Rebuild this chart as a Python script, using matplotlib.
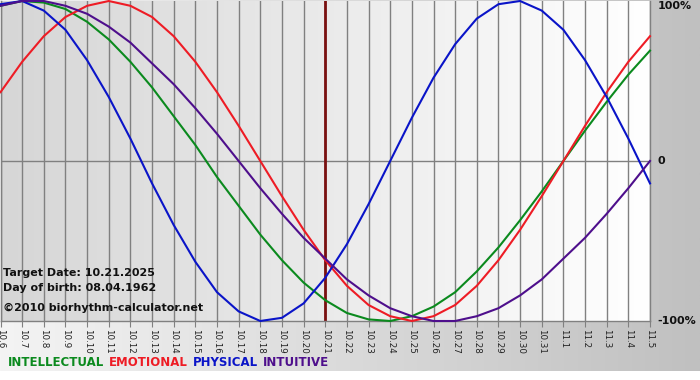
import numpy as np
import matplotlib
matplotlib.use("Agg")
import matplotlib.pyplot as plt
from matplotlib.colors import LinearSegmentedColormap

# ---- data ----
dates = ["10.6", "10.7", "10.8", "10.9", "10.10", "10.11", "10.12", "10.13", "10.14",
         "10.15", "10.16", "10.17", "10.18", "10.19", "10.20", "10.21", "10.22", "10.23",
         "10.24", "10.25", "10.26", "10.27", "10.28", "10.29", "10.30", "10.31", "11.1",
         "11.2", "11.3", "11.4", "11.5"]
physical = [0.98, 1.00, 0.94, 0.82, 0.63, 0.40, 0.14, -0.14, -0.40, -0.63, -0.82, -0.94,
            -1.00, -0.98, -0.89, -0.73, -0.52, -0.27, 0.00, 0.27, 0.52, 0.73, 0.89, 0.98,
            1.00, 0.94, 0.82, 0.63, 0.40, 0.14, -0.14]
emotional = [0.43, 0.62, 0.78, 0.90, 0.97, 1.00, 0.97, 0.90, 0.78, 0.62, 0.43, 0.22,
             0.00, -0.22, -0.43, -0.62, -0.78, -0.90, -0.97, -1.00, -0.97, -0.90, -0.78,
             -0.62, -0.43, -0.22, 0.00, 0.22, 0.43, 0.62, 0.78]
intellectual = [0.97, 1.00, 0.99, 0.95, 0.87, 0.76, 0.62, 0.46, 0.28, 0.10, -0.10, -0.28,
                -0.46, -0.62, -0.76, -0.87, -0.95, -0.99, -1.00, -0.97, -0.91, -0.82, -0.69,
                -0.54, -0.37, -0.19, 0.00, 0.19, 0.37, 0.54, 0.69]
intuitive = [0.97, 1.00, 1.00, 0.97, 0.92, 0.84, 0.74, 0.61, 0.48, 0.33, 0.17, 0.00,
             -0.17, -0.33, -0.48, -0.61, -0.74, -0.84, -0.92, -0.97, -1.00, -1.00, -0.97,
             -0.92, -0.84, -0.74, -0.61, -0.48, -0.33, -0.17, 0.00]
target_date = "10.21"
y_labels = ["100%", "0", "-100%"]
y_values = [1.0, 0.0, -1.0]
info_lines = ["Target Date: 10.21.2025", "Day of birth: 08.04.1962", "\u00a92010 biorhythm-calculator.net"]
series = [("INTELLECTUAL", intellectual, "#0b8a1e"),
          ("EMOTIONAL", emotional, "#ee1c25"),
          ("PHYSICAL", physical, "#0a14c8"),
          ("INTUITIVE", intuitive, "#4e0f8c")]

W, H = 700, 380
fig = plt.figure(figsize=(W / 100, H / 100), dpi=100)

# figure background gradient
bg = fig.add_axes([0, 0, 1, 1], zorder=0)
bg.set_axis_off()
grad = np.linspace(0, 1, 256).reshape(1, -1)
cmap_fig = LinearSegmentedColormap.from_list("f", ["#f4f4f4", "#c0c0c0"])
bg.imshow(grad, cmap=cmap_fig, aspect="auto", extent=[0, 1, 9 / H, 1])
bg.set_xlim(0, 1)
bg.set_ylim(0, 1)

# main plot area
left_px, right_px, top_px, bot_px = 0.5, 650, 1, 321
ax = fig.add_axes([left_px / W, 1 - bot_px / H, (right_px - left_px) / W, (bot_px - top_px) / H], zorder=1)
x = np.arange(len(dates))
cmap_ax = LinearSegmentedColormap.from_list("a", ["#d6d6d6", "#ffffff"])
ax.imshow(grad, cmap=cmap_ax, aspect="auto", extent=[0, len(dates) - 1, -1, 1], zorder=0)
ax.set_xlim(0, len(dates) - 1)
ax.set_ylim(-1, 1)

for xi in x:
    ax.axvline(xi, color="#808080", lw=1.0, zorder=1)
ax.axhline(0, color="#808080", lw=1.0, zorder=1)

ax.axvline(dates.index(target_date), color="#7a1010", lw=2.0, zorder=2)

for name, vals, col in series:
    ax.plot(x, vals, color=col, lw=1.5, zorder=3, clip_on=False, solid_joinstyle="round")

ax.spines["top"].set_visible(False)
for s in ["left", "right", "bottom"]:
    ax.spines[s].set_color("#808080")
    ax.spines[s].set_linewidth(1.0)

ax.set_xticks(x)
ax.set_xticklabels(dates, rotation=-90, fontsize=6.3, color="#222222")
ax.tick_params(axis="x", length=4, width=0.8, color="#808080", pad=1.5)
ax.set_yticks([])

for lab, val in zip(y_labels, y_values):
    ax.annotate(lab, xy=(1, val), xycoords=("axes fraction", "data"),
                xytext=(5.5, 0), textcoords="offset points", ha="left",
                va="top" if val > 0 else "center",
                fontsize=8, fontweight="bold", color="#111111", annotation_clip=False)

# info text in plot
for t, ypx in zip(info_lines, [276, 291, 311]):
    fig.text(3 / W, 1 - ypx / H, t, fontsize=8, fontweight="bold", color="#111111",
             va="baseline", ha="left", zorder=5)

# legend text
xpos = 8
renderer = fig.canvas.get_renderer()
for name, vals, col in series:
    t = fig.text(xpos / W, 1 - 366 / H, name, fontsize=8.5, fontweight="bold", color=col,
                 va="baseline", ha="left", zorder=5)
    bb = t.get_window_extent(renderer=renderer)
    xpos += bb.width + 5

fig.savefig("out.png", dpi=100)
